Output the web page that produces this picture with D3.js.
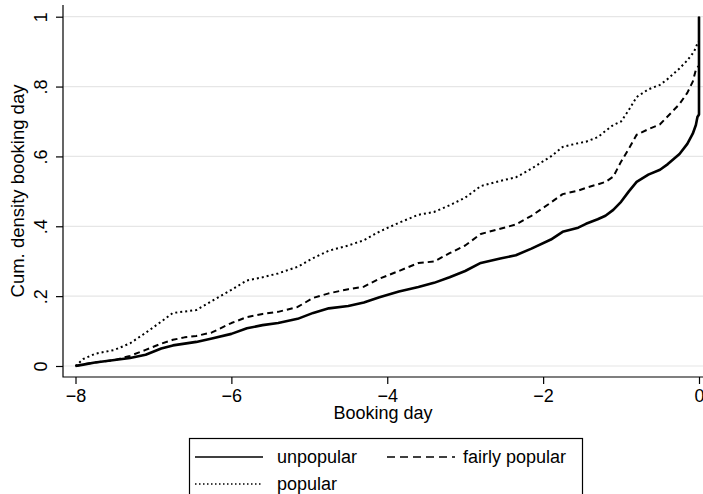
<!DOCTYPE html>
<html><head><meta charset="utf-8">
<script src="https://cdn.jsdelivr.net/npm/d3@7"></script>
<style>body{margin:0;background:#fff}svg{display:block;font-family:"Liberation Sans",Arial,Helvetica,sans-serif}</style>
</head><body><svg id="chart" width="703" height="494"></svg>
<script>
const days = [-8,-7.9,-7.75,-7.5,-7.3,-7.1,-6.9,-6.75,-6.6,-6.45,-6.25,-6.0,-5.8,-5.6,-5.4,-5.15,-4.95,-4.75,-4.5,-4.3,-4.1,-3.85,-3.6,-3.4,-3.2,-3.0,-2.8,-2.55,-2.35,-2.15,-1.9,-1.75,-1.55,-1.45,-1.3,-1.2,-1.1,-1.0,-0.9,-0.8,-0.65,-0.5,-0.4,-0.25,-0.15,-0.08,-0.04,-0.02,0,0];
const unpopular = [0,0.004,0.01,0.017,0.023,0.032,0.05,0.059,0.064,0.069,0.079,0.092,0.108,0.117,0.123,0.135,0.152,0.165,0.172,0.182,0.197,0.213,0.226,0.238,0.254,0.272,0.295,0.308,0.317,0.336,0.362,0.384,0.396,0.407,0.42,0.43,0.447,0.47,0.5,0.527,0.548,0.562,0.578,0.607,0.636,0.665,0.69,0.713,0.72,1];
const fairlyPopular = [0,0.005,0.01,0.017,0.029,0.046,0.064,0.075,0.082,0.086,0.096,0.123,0.14,0.149,0.155,0.169,0.195,0.208,0.22,0.227,0.25,0.272,0.295,0.299,0.323,0.345,0.378,0.393,0.405,0.43,0.468,0.492,0.502,0.51,0.52,0.527,0.542,0.585,0.622,0.662,0.678,0.692,0.715,0.75,0.782,0.814,0.848,0.855,0.86,1];
const popular = [0,0.02,0.035,0.046,0.065,0.095,0.127,0.152,0.156,0.16,0.186,0.218,0.245,0.254,0.265,0.284,0.309,0.33,0.345,0.36,0.385,0.41,0.433,0.441,0.46,0.482,0.515,0.53,0.54,0.565,0.6,0.627,0.638,0.642,0.655,0.673,0.69,0.70,0.733,0.77,0.792,0.805,0.822,0.852,0.875,0.895,0.91,0.925,0.93,1];
const xTicks = [-8,-6,-4,-2,0];
const xTickLabels = ["\u22128","\u22126","\u22124","\u22122","0"];
const yTicks = [0,0.2,0.4,0.6,0.8,1];
const yTickLabels = ["0",".2",".4",".6",".8","1"];
const seriesNames = ["unpopular","fairly popular","popular"];

const svg = d3.select("#chart");
const FS = 18;
const axisX = 63, axisY = 377, plotTop = 5, plotRight = 703;
const x = d3.scaleLinear().domain([-8,0]).range([75.5,699]);
const y = d3.scaleLinear().domain([0,1]).range([366,16.7]);

// gridlines
svg.append("g").selectAll("line").data(yTicks).join("line")
  .attr("x1",axisX).attr("x2",plotRight).attr("y1",d=>y(d)).attr("y2",d=>y(d))
  .attr("stroke","#e6e6e6").attr("stroke-width",1.2);

// series
const series = [
  {name:seriesNames[0], vals:unpopular, dash:null, w:2.6},
  {name:seriesNames[1], vals:fairlyPopular, dash:"6,4", w:2},
  {name:seriesNames[2], vals:popular, dash:"2,3", w:2}
];
const line = d3.line().x(d=>x(d[0])).y(d=>y(d[1]));
series.slice().reverse().forEach(s=>{
  svg.append("path").datum(days.map((d,i)=>[d,s.vals[i]]))
    .attr("d",line).attr("fill","none").attr("stroke","#000")
    .attr("stroke-width",s.w).attr("stroke-dasharray",s.dash)
    .attr("stroke-linejoin","round");
});

// axes
const ya = svg.append("g").attr("transform",`translate(${axisX},0)`)
  .call(d3.axisLeft(y).tickValues(yTicks).tickFormat((d,i)=>yTickLabels[i]).tickSize(7).tickSizeOuter(0));
ya.select(".domain").remove();
ya.selectAll("line").attr("stroke","#000").attr("stroke-width",1.2);
ya.selectAll("text").attr("x",0).attr("dy",0).attr("text-anchor","middle")
  .attr("transform","translate(-16,0) rotate(-90)").attr("font-size",FS).attr("fill","#000")
  .attr("font-family",'"Liberation Sans",Arial,sans-serif');
const xa = svg.append("g").attr("transform",`translate(0,${axisY})`)
  .call(d3.axisBottom(x).tickValues(xTicks).tickFormat((d,i)=>xTickLabels[i]).tickSize(7).tickSizeOuter(0));
xa.select(".domain").remove();
xa.selectAll("line").attr("stroke","#000").attr("stroke-width",1.2);
xa.selectAll("text").attr("y",24.5).attr("dy",0).attr("font-size",FS).attr("fill","#000")
  .attr("font-family",'"Liberation Sans",Arial,sans-serif');

svg.append("path").attr("d",`M${axisX},${plotTop}V${axisY}H${plotRight}`)
  .attr("fill","none").attr("stroke","#000").attr("stroke-width",1.2);

// titles
svg.append("text").attr("x",(axisX+plotRight)/2).attr("y",419).attr("text-anchor","middle")
  .attr("font-size",FS).text("Booking day");
svg.append("text").attr("transform",`translate(24,${(plotTop+axisY)/2}) rotate(-90)`)
  .attr("text-anchor","middle").attr("font-size",18.5).text("Cum. density booking day");

// legend
const lg = svg.append("g");
lg.append("rect").attr("x",189.5).attr("y",438.5).attr("width",393).attr("height",70)
  .attr("fill","#fff").attr("stroke","#000").attr("stroke-width",1.2);
const items = [
  {s:series[0], lx:195, ly:457, tx:277},
  {s:series[1], lx:387, ly:457, tx:463},
  {s:series[2], lx:195, ly:484, tx:277}
];
items.forEach(it=>{
  lg.append("line").attr("x1",it.lx).attr("x2",it.lx+68).attr("y1",it.ly).attr("y2",it.ly)
    .attr("stroke","#000").attr("stroke-width",1.5)
    .attr("stroke-dasharray", it.s.dash===null?null:(it.s.dash==="2,3"?"1.5,2.5":"8,5"));
  lg.append("text").attr("x",it.tx).attr("y",it.ly+5.5).attr("font-size",FS).text(it.s.name);
});
</script></body></html>
